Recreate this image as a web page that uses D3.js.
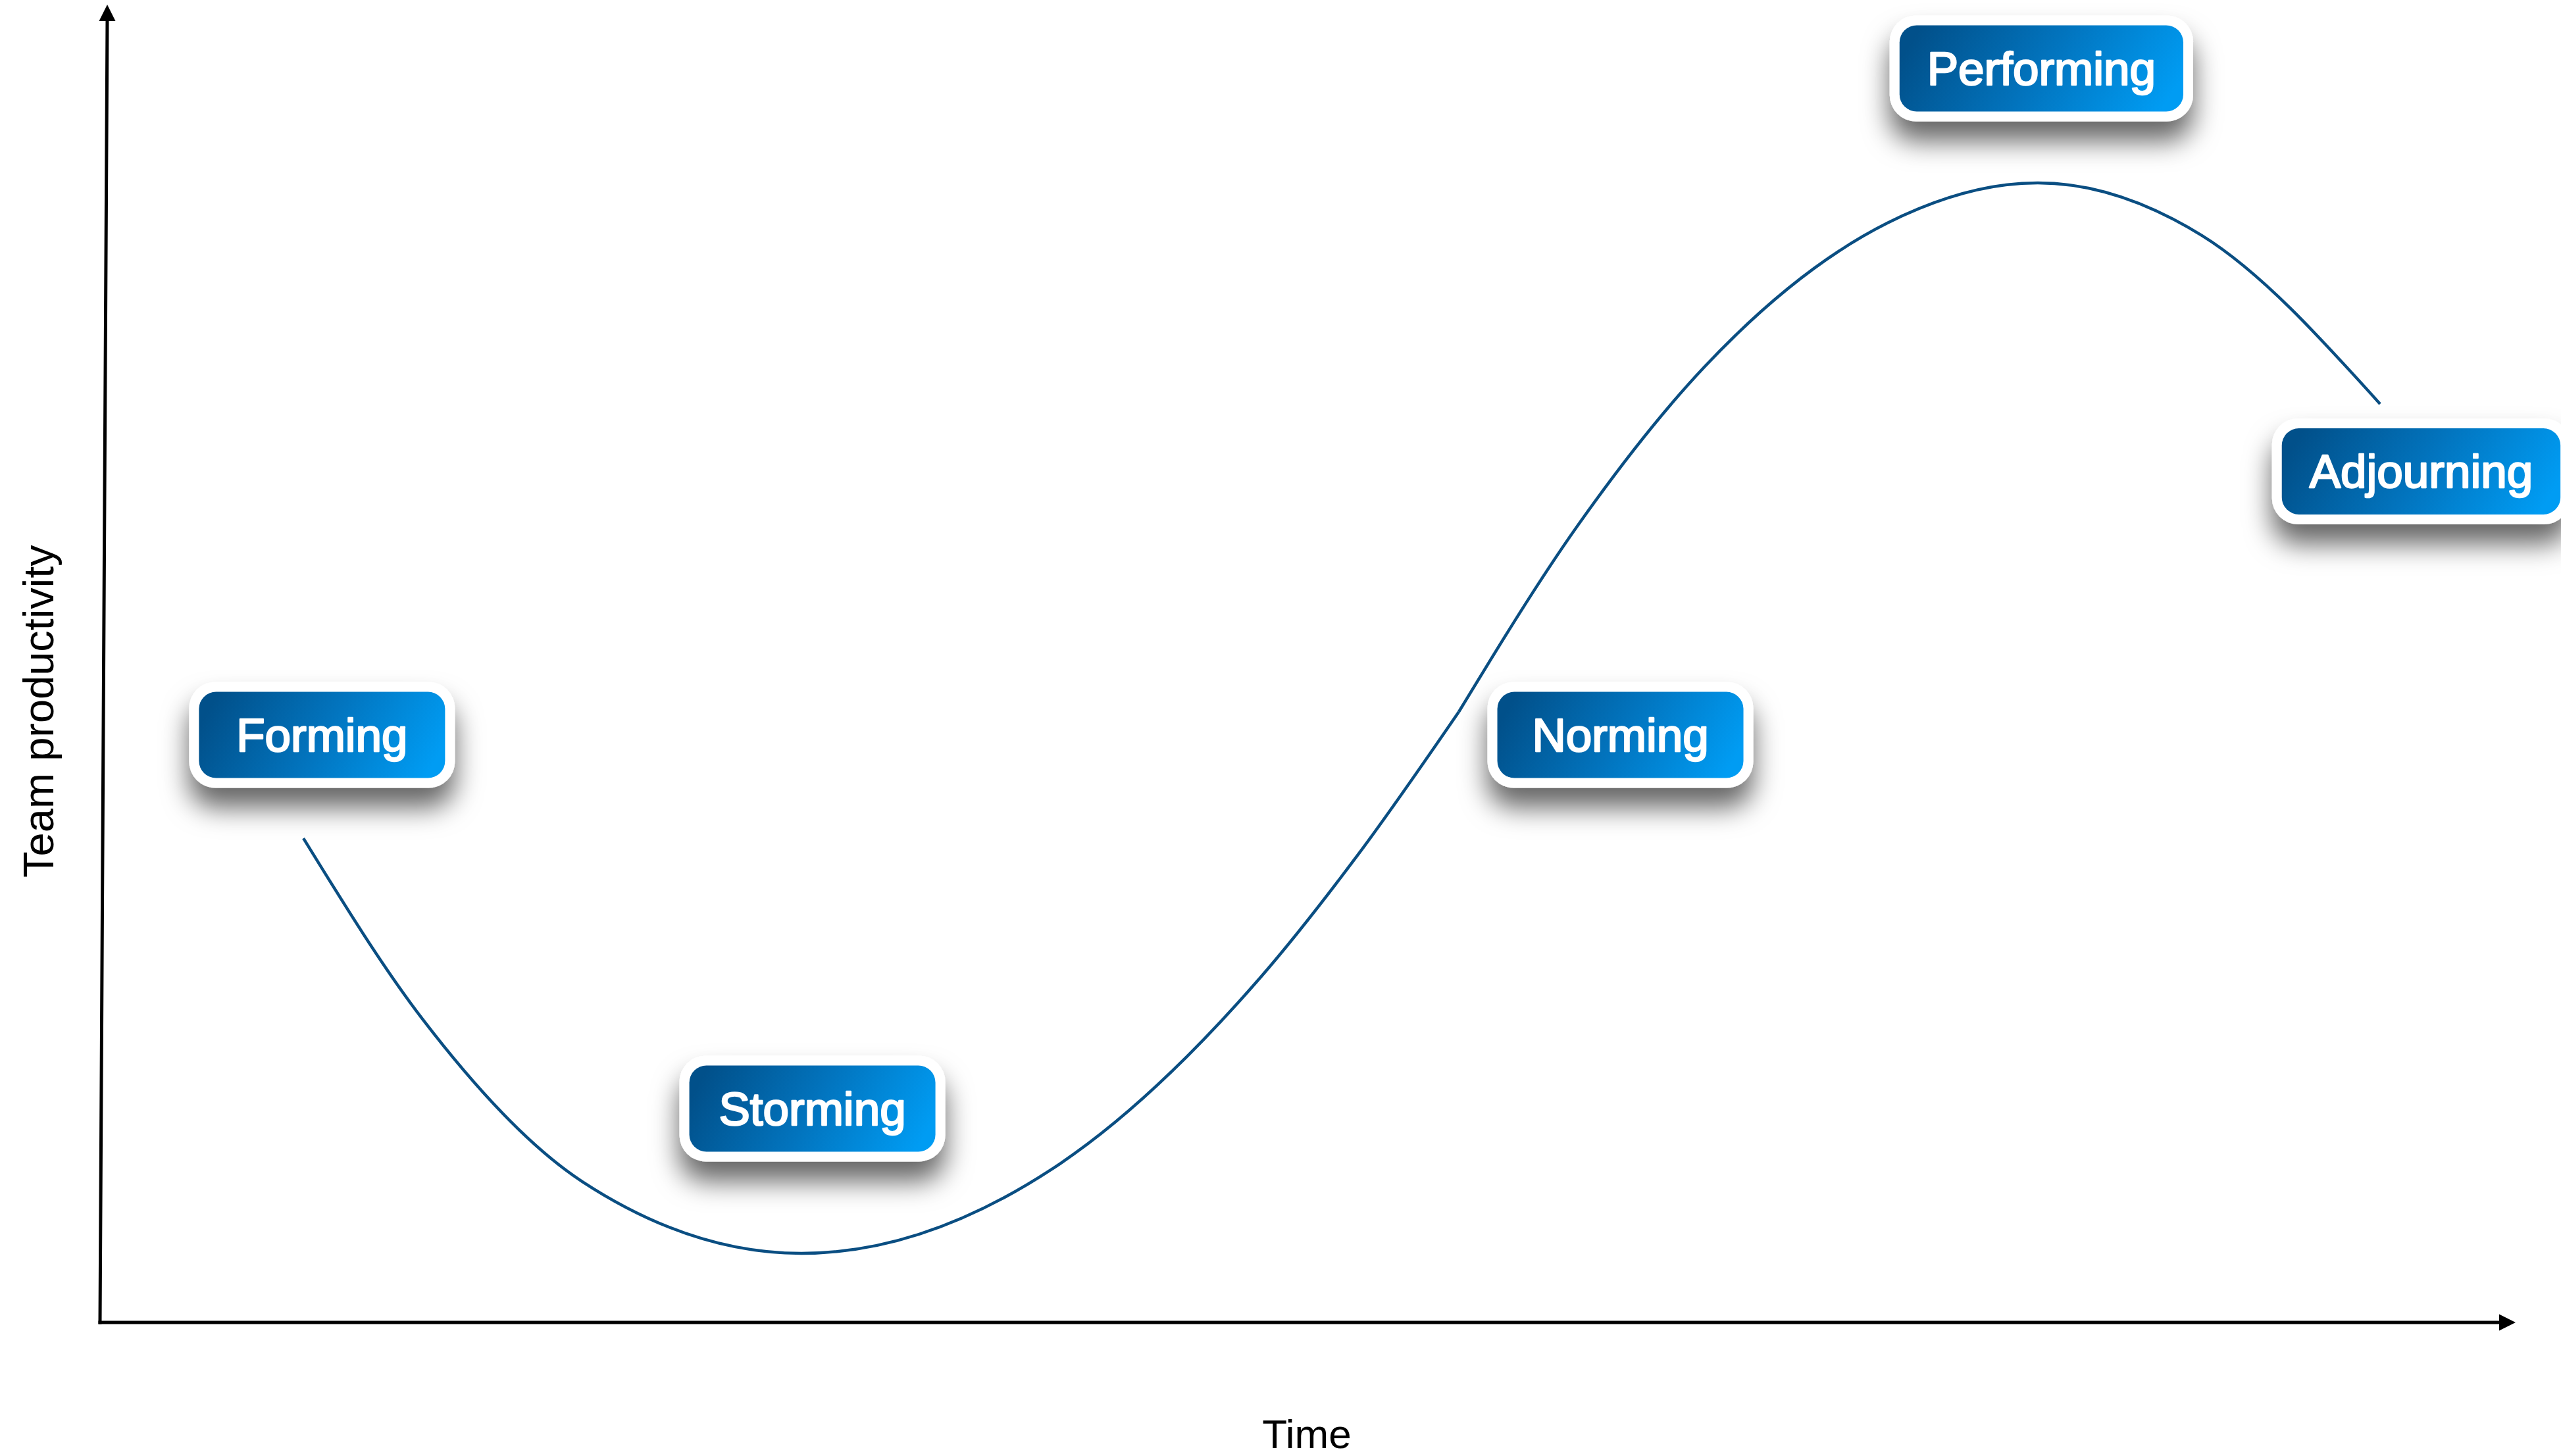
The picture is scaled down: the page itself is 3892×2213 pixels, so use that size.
<!DOCTYPE html>
<html>
<head>
<meta charset="utf-8">
<script src="https://cdn.jsdelivr.net/npm/d3@7"></script>
<style>
  html, body { margin: 0; padding: 0; background: #ffffff; overflow: hidden; }
  svg { display: block; }
</style>
</head>
<body>
<svg id="chart"></svg>
<script>
// ---------------- data ----------------
const xAxisTitle = "Time";
const yAxisTitle = "Team productivity";

// Curve from Forming down through Storming up to Norming (time, productivity in %)
const formingToNormingTime  = [8.42, 13.35, 19.97, 29.04, 39.77, 48.03, 52.06, 56.25];
const formingToNormingLevel = [36.74, 23.02, 10.68, 5.24, 12.08, 26.16, 35.45, 46.33];

// Curve from Norming up to Performing and down to Adjourning
const normingToAdjourningTime  = [56.25, 61.15, 66.41, 73.99, 80.22, 87.01, 94.39];
const normingToAdjourningLevel = [46.33, 60.41, 72.49, 83.42, 86.47, 82.48, 69.70];

// Stage labels and where they sit (time, productivity)
const stageNames = ["Forming", "Storming", "Norming", "Performing", "Adjourning"];
const stageTime  = [9.19, 29.49, 62.94, 80.37, 96.09];
const stageLevel = [44.58, 16.23, 44.58, 95.16, 64.58];

// ---------------- layout ----------------
const W = 3892, H = 2213;
const svg = d3.select("#chart").attr("width", W).attr("height", H);

const x = d3.scaleLinear().domain([0, 100]).range([152, 3823]);
const y = d3.scaleLinear().domain([0, 100]).range([2010, 7]);

const defs = svg.append("defs");
const grad = defs.append("linearGradient").attr("id", "boxGrad")
  .attr("x1", "0%").attr("y1", "40%").attr("x2", "100%").attr("y2", "60%");
grad.append("stop").attr("offset", "0%").attr("stop-color", "#01508A");
grad.append("stop").attr("offset", "50%").attr("stop-color", "#0274BE");
grad.append("stop").attr("offset", "100%").attr("stop-color", "#009CF3");

const shadow = defs.append("filter").attr("id", "boxShadow")
  .attr("x", "-30%").attr("y", "-40%").attr("width", "160%").attr("height", "220%");
shadow.append("feDropShadow")
  .attr("dx", 0).attr("dy", 30).attr("stdDeviation", 20)
  .attr("flood-color", "#000").attr("flood-opacity", 0.6);

// ---------------- axes ----------------
const axisG = svg.append("g");
const lean = 11; // the hand-drawn vertical axis leans slightly to the right
axisG.append("line")
  .attr("x1", x(0)).attr("y1", y(0))
  .attr("x2", x(0) + lean).attr("y2", y(100) + 24)
  .attr("stroke", "#000").attr("stroke-width", 5).attr("stroke-linecap", "square");
axisG.append("path")
  .attr("d", `M${x(0) + lean},${y(100)} L${x(0) + lean - 12.5},${y(100) + 25} L${x(0) + lean + 12.5},${y(100) + 25} Z`)
  .attr("fill", "#000");
axisG.append("line")
  .attr("x1", x(0)).attr("y1", y(0))
  .attr("x2", x(100) - 24).attr("y2", y(0))
  .attr("stroke", "#000").attr("stroke-width", 5).attr("stroke-linecap", "square");
axisG.append("path")
  .attr("d", `M${x(100)},${y(0)} L${x(100) - 25},${y(0) - 12.5} L${x(100) - 25},${y(0) + 12.5} Z`)
  .attr("fill", "#000");

const fontFamily = "'Liberation Sans', Arial, Helvetica, sans-serif";

svg.append("text")
  .attr("x", 1986).attr("y", 2201)
  .attr("text-anchor", "middle")
  .attr("font-family", fontFamily).attr("font-size", 62).attr("fill", "#000")
  .text(xAxisTitle);

svg.append("text")
  .attr("transform", `translate(81,1081) rotate(-90)`)
  .attr("text-anchor", "middle")
  .attr("font-family", fontFamily).attr("font-size", 65).attr("fill", "#000")
  .text(yAxisTitle);

// ---------------- curve ----------------
const line = d3.line()
  .x(d => x(d[0])).y(d => y(d[1]))
  .curve(d3.curveMonotoneX);

const seg1 = formingToNormingTime.map((t, i) => [t, formingToNormingLevel[i]]);
const seg2 = normingToAdjourningTime.map((t, i) => [t, normingToAdjourningLevel[i]]);

[seg1, seg2].forEach(seg => {
  svg.append("path")
    .datum(seg)
    .attr("d", line)
    .attr("fill", "none")
    .attr("stroke", "#0A4E82")
    .attr("stroke-width", 4.5);
});

// ---------------- stage boxes ----------------
const border = 15, innerH = 131, minInnerW = 374, pad = 42;
stageNames.forEach((name, i) => {
  const cx = x(stageTime[i]), cy = y(stageLevel[i]);
  const g = svg.append("g");
  const outer = g.append("rect").attr("fill", "#fff").attr("filter", "url(#boxShadow)");
  const inner = g.append("rect").attr("fill", "url(#boxGrad)");
  const txt = g.append("text")
    .attr("x", cx).attr("y", cy + 25)
    .attr("text-anchor", "middle")
    .attr("font-family", fontFamily).attr("font-size", 71).attr("fill", "#fff")
    .attr("stroke", "#fff").attr("stroke-width", 2.5).attr("stroke-linejoin", "round")
    .text(name);
  const tw = txt.node().getComputedTextLength();
  const iw = Math.max(minInnerW, tw + 2 * pad);
  inner.attr("x", cx - iw / 2).attr("y", cy - innerH / 2)
    .attr("width", iw).attr("height", innerH).attr("rx", 26).attr("ry", 26);
  outer.attr("x", cx - iw / 2 - border).attr("y", cy - innerH / 2 - border)
    .attr("width", iw + 2 * border).attr("height", innerH + 2 * border).attr("rx", 40).attr("ry", 40);
});
</script>
</body>
</html>
